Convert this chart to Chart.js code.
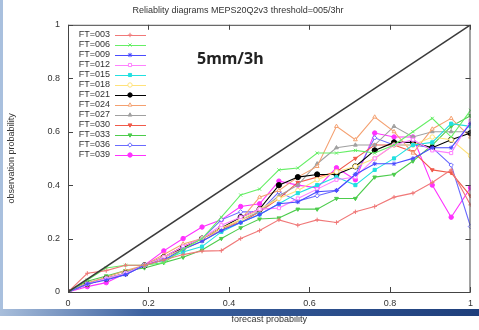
<!DOCTYPE html>
<html>
<head>
<meta charset="utf-8">
<script src="https://cdn.jsdelivr.net/npm/chart.js@4/dist/chart.umd.min.js"></script>
<style>
  html, body { margin: 0; padding: 0; background: #fff; }
  #wrap { width: 479px; height: 330px; position: relative; }
</style>
</head>
<body>
<div id="wrap"><canvas id="rel"></canvas></div>
<script>
// forecast probability bins (k/21)
const probs = [0, 0.048, 0.095, 0.143, 0.19, 0.238, 0.286, 0.333, 0.381, 0.429, 0.476,
               0.524, 0.571, 0.619, 0.667, 0.714, 0.762, 0.81, 0.857, 0.905, 0.952, 1];

const labels = ["FT=003","FT=006","FT=009","FT=012","FT=015","FT=018","FT=021",
                "FT=024","FT=027","FT=030","FT=033","FT=036","FT=039"];

const ft003 = [0,.07,.08,.1,.1,.12,.14,.153,.155,.2,.23,.27,.25,.27,.26,.3,.32,.355,.37,.41,.457,.326];
const ft006 = [0,.045,.09,.1,.1,.11,.16,.2,.28,.363,.385,.457,.464,.52,.52,.53,.52,.55,.6,.65,.58,.68];
const ft009 = [0,.03,.045,.065,.1,.12,.16,.19,.23,.26,.29,.33,.337,.375,.38,.44,.48,.48,.5,.54,.54,.63];
const ft012 = [0,.03,.05,.07,.1,.13,.17,.2,.25,.28,.31,.314,.35,.385,.42,.43,.5,.55,.57,.53,.52,.64];
const ft015 = [0,.03,.05,.07,.1,.12,.15,.17,.225,.26,.29,.33,.37,.4,.43,.4,.457,.5,.55,.56,.63,.62];
const ft018 = [0,.03,.05,.07,.1,.13,.16,.2,.24,.27,.31,.35,.38,.42,.45,.47,.5,.55,.55,.58,.57,.51];
const ft021 = [0,.03,.05,.07,.1,.13,.165,.2,.24,.28,.31,.4,.43,.44,.44,.47,.53,.56,.56,.54,.57,.595];
const ft024 = [0,.035,.055,.08,.1,.14,.18,.2,.23,.27,.355,.38,.43,.47,.62,.57,.655,.6,.52,.61,.65,.58];
const ft027 = [0,.03,.05,.07,.1,.13,.16,.19,.23,.27,.3,.36,.4,.48,.54,.55,.55,.62,.58,.6,.6,.6];
const ft030 = [0,.03,.05,.07,.1,.13,.17,.2,.24,.26,.3,.35,.41,.43,.45,.5,.55,.55,.525,.457,.446,.36];
const ft033 = [0,.04,.06,.08,.09,.11,.13,.157,.2,.24,.273,.277,.31,.31,.35,.35,.43,.44,.49,.55,.62,.66];
const ft036 = [0,.03,.05,.065,.1,.13,.17,.2,.27,.3,.3,.375,.34,.36,.38,.44,.577,.55,.55,.54,.475,.245];
const ft039 = [0,.02,.035,.07,.1,.154,.2,.243,.27,.32,.33,.415,.4,.39,.465,.42,.595,.58,.58,.4,.28,.39];

const allSeries = [ft003, ft006, ft009, ft012, ft015, ft018, ft021, ft024, ft027, ft030, ft033, ft036, ft039];

const colors = ["#f07878","#66ee66","#4a4aff","#ff80ff","#22e0e0","#ffe27a","#000000",
                "#f4a070","#a0a0a0","#f05a4a","#4ccc4c","#6a6aff","#ff30ff"];
// [pointStyle, rotation, filled]
const markers = [["cross",0,true],["crossRot",0,true],["star",0,true],["rect",0,false],
                 ["rect",0,true],["circle",0,false],["circle",0,true],["triangle",0,false],
                 ["triangle",0,true],["triangle",180,true],["triangle",180,true],
                 ["rectRot",0,false],["circle",0,true]];

const datasets = [{
    label: "diag",
    data: [{x: 0, y: 0}, {x: 1, y: 1}],
    borderColor: "#3a3a3a",
    borderWidth: 1.5,
    pointRadius: 0
}];

allSeries.forEach((vals, i) => {
    const m = markers[i];
    datasets.push({
        label: labels[i],
        data: vals.map((v, k) => ({x: probs[k], y: v})),
        borderColor: colors[i],
        backgroundColor: m[2] ? colors[i] : "#ffffff",
        borderWidth: 1.1,
        pointStyle: m[0],
        rotation: m[1],
        pointRadius: i == 6 ? 2.6 : 2.2,
        pointBorderWidth: 1
    });
});

// gnuplot style frame, inward ticks, inline legend and decorations
const gnuFrame = {
    id: "gnuFrame",
    afterDatasetsDraw(chart) {
        const ctx = chart.ctx;
        const a = chart.chartArea;
        const xs = chart.scales.x, ys = chart.scales.y;
        ctx.save();
        ctx.strokeStyle = "#444";
        ctx.lineWidth = 1;
        ctx.strokeRect(a.left + 0.5, a.top + 0.5, a.right - a.left - 1, a.bottom - a.top);
        ctx.beginPath();
        xs.ticks.forEach(t => {
            const px = Math.round(xs.getPixelForValue(t.value)) + 0.5;
            ctx.moveTo(px, a.bottom); ctx.lineTo(px, a.bottom - 5);
            ctx.moveTo(px, a.top); ctx.lineTo(px, a.top + 5);
        });
        ys.ticks.forEach(t => {
            const py = Math.round(ys.getPixelForValue(t.value)) + 0.5;
            ctx.moveTo(a.left, py); ctx.lineTo(a.left + 5, py);
            ctx.moveTo(a.right, py); ctx.lineTo(a.right - 5, py);
        });
        ctx.stroke();

        // legend
        ctx.font = "9px 'Liberation Sans', Arial, sans-serif";
        ctx.textAlign = "right";
        ctx.textBaseline = "middle";
        const dp = Chart.helpers && Chart.helpers.drawPoint;
        chart.data.datasets.slice(1).forEach((ds, i) => {
            const y = 35 + i * 10;
            ctx.fillStyle = "#333";
            ctx.fillText(ds.label, 110, y);
            ctx.strokeStyle = ds.borderColor;
            ctx.lineWidth = 1;
            ctx.beginPath(); ctx.moveTo(115, y + 0.5); ctx.lineTo(146, y + 0.5); ctx.stroke();
            ctx.fillStyle = ds.backgroundColor;
            if (dp) {
                dp(ctx, {pointStyle: ds.pointStyle, rotation: ds.rotation, radius: 2.2, borderWidth: 1}, 130, y);
            } else {
                ctx.beginPath(); ctx.arc(130, y, 2, 0, Math.PI * 2); ctx.fill();
            }
        });

        // annotation
        ctx.font = "bold 16px 'Noto Sans', 'Open Sans', sans-serif";
        ctx.textAlign = "left";
        ctx.fillStyle = "#222";
        ctx.fillText("5mm/3h", 197, 59);

        // slide decoration
        const g = ctx.createLinearGradient(0, 0, 479, 0);
        g.addColorStop(0, "#a8bedb");
        g.addColorStop(0.3, "#3d62a0");
        g.addColorStop(1, "#1e3f7c");
        ctx.fillStyle = g;
        ctx.fillRect(0, 309, 479, 7);
        ctx.fillStyle = "#a9c0de";
        ctx.fillRect(0, 0, 3, 309);
        ctx.restore();
    }
};

const tickFont = {family: "'Liberation Sans', Arial, sans-serif", size: 9};
const fmt = v => String(Math.round(v * 10) / 10);

new Chart(document.getElementById("rel"), {
    type: "line",
    data: {datasets: datasets},
    options: {
        responsive: true,
        maintainAspectRatio: false,
        animation: false,
        layout: {padding: {left: 0, right: 3, top: 0, bottom: 0}},
        plugins: {
            legend: {display: false},
            tooltip: {enabled: false},
            title: {
                display: true,
                text: "Reliablity diagrams MEPS20Q2v3 threshold=005/3hr",
                color: "#333",
                font: {family: "'Liberation Sans', Arial, sans-serif", size: 9, weight: "normal"},
                padding: {top: 5, bottom: 9}
            }
        },
        scales: {
            x: {
                type: "linear",
                min: 0, max: 1,
                grid: {display: false, drawTicks: false},
                border: {display: false},
                ticks: {stepSize: 0.2, color: "#333", font: tickFont, padding: 6, maxRotation: 0, callback: fmt},
                title: {display: true, text: "forecast probability", color: "#333", font: tickFont, padding: {top: 0, bottom: 5}},
                afterFit(s) { s.height = 38; }
            },
            y: {
                min: 0, max: 1,
                grid: {display: false, drawTicks: false},
                border: {display: false},
                ticks: {stepSize: 0.2, color: "#333", font: tickFont, padding: 8, callback: fmt},
                title: {display: true, text: "observation probability", color: "#333", font: tickFont, padding: {top: 6, bottom: 0}},
                afterFit(s) { s.width = 68; }
            }
        }
    },
    plugins: [gnuFrame]
});
</script>
</body>
</html>
